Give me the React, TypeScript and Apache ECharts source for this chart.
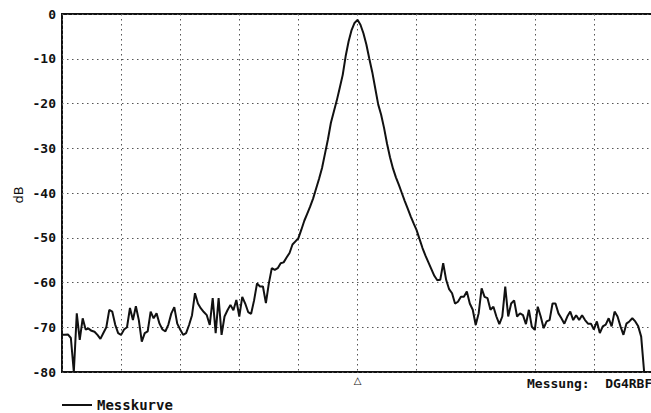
import React, { useEffect, useRef } from "react";
import * as echarts from "echarts";

// Sampling step along the horizontal axis (in grid divisions)
const sampleStep = 0.05;

// Measured level in dB, one reading per sample step (0 .. 9.85 divisions)
const levelDb: number[] = [
  -71.7, -71.7, -71.6, -72.4, -80, -66.9, -72.8, -68.0, -70.5, -70.3,
  -70.8, -71.0, -71.7, -72.6, -71.3, -70.0, -66.1, -66.5, -69.4, -71.3,
  -71.7, -70.5, -70.0, -65.7, -68.4, -65.3, -68.4, -73.2, -71.3, -70.9,
  -66.5, -68.0, -66.9, -69.2, -70.5, -70.9, -69.4, -66.9, -65.5, -69.2,
  -70.5, -71.7, -71.3, -69.5, -67.3, -62.4, -64.7, -65.8, -66.6, -67.3,
  -69.5, -63.5, -71.3, -63.5, -71.7, -67.6, -66.2, -65.0, -66.2, -63.9,
  -67.6, -63.2, -64.7, -66.6, -67.0, -64.0, -60.2, -60.9, -60.9, -64.6,
  -60.2, -56.8, -57.2, -56.8, -55.7, -55.5, -54.4, -53.4, -51.5, -50.8,
  -50.1, -48.2, -46.2, -44.6, -43.0, -41.2, -39.0, -36.8, -34.4, -31.2,
  -28.0, -24.3, -21.8, -19.3, -16.5, -13.6, -9.4, -6.1, -3.6, -2.0,
  -1.3, -2.4, -4.3, -6.8, -10.0, -13.0, -16.6, -20.2, -22.5, -25.5,
  -29.0, -32.0, -34.5, -36.5, -38.2, -40.0, -41.8, -43.5, -45.2, -46.8,
  -48.3, -50.3, -52.3, -54.0, -55.5, -57.0, -58.5, -59.5, -59.4, -55.7,
  -59.4, -61.5, -62.4, -64.7, -64.3, -63.2, -63.2, -62.0, -64.7, -66.1,
  -69.5, -66.9, -61.3, -63.2, -63.5, -66.1, -65.4, -67.6, -69.3, -67.6,
  -60.9, -67.6, -64.7, -64.0, -67.6, -66.9, -67.3, -69.3, -66.1, -69.9,
  -70.6, -65.4, -67.6, -70.2, -68.7, -68.4, -64.7, -64.7, -66.9, -68.0,
  -69.2, -67.6, -66.5, -68.4, -67.3, -68.4, -67.3, -68.4, -69.2, -69.2,
  -70.5, -68.7, -71.3, -69.8, -69.4, -68.0, -69.8, -66.5, -67.6, -69.8,
  -71.7, -69.2, -68.7, -68.0, -68.7, -69.8, -72.1, -80,
];

const yTicks = { min: -80, max: 0, interval: 10 };
const xTicks = { min: 0, max: 10, interval: 1 };
const centerMarker = 5;
const seriesName = "Messkurve";
const yAxisTitle = "dB";
const footerText = "Messung:  DG4RBF";

export default function App() {
  const ref = useRef<HTMLDivElement>(null);

  useEffect(() => {
    if (!ref.current) return;
    const chart = echarts.init(ref.current, undefined, { renderer: "svg" });
    const data = levelDb.map((v, i) => [+(i * sampleStep).toFixed(2), v]);
    const gridDots = { color: "#555", width: 1, type: [1.5, 3.5] as any };

    chart.setOption({
      animation: false,
      backgroundColor: "#fff",
      grid: {
        left: 62,
        top: 14,
        width: 591,
        height: 358,
        show: true,
        borderColor: "#111",
        borderWidth: 2,
        backgroundColor: "transparent",
      },
      legend: {
        left: 62,
        top: 398,
        padding: 0,
        icon: "rect",
        itemWidth: 30,
        itemHeight: 2,
        data: [seriesName],
        textStyle: {
          fontFamily: "DejaVu Sans Mono",
          fontWeight: "bold",
          fontSize: 14,
          color: "#111",
        },
      },
      xAxis: {
        type: "value",
        min: xTicks.min,
        max: xTicks.max,
        interval: xTicks.interval,
        axisLine: { show: false },
        axisTick: { show: false },
        splitLine: { show: true, lineStyle: gridDots },
        axisLabel: {
          margin: 3,
          fontSize: 10,
          color: "#111",
          fontFamily: "DejaVu Sans",
          formatter: (v: number) => (v === centerMarker ? "△" : ""),
        },
      },
      yAxis: {
        type: "value",
        min: yTicks.min,
        max: yTicks.max,
        interval: yTicks.interval,
        axisLine: { show: false },
        axisTick: { show: false },
        splitLine: { show: true, lineStyle: gridDots },
        axisLabel: {
          margin: 6,
          fontFamily: "DejaVu Sans Mono",
          fontWeight: "bold",
          fontSize: 13,
          color: "#111",
        },
      },
      graphic: [
        {
          type: "text",
          x: 18,
          y: 195,
          rotation: Math.PI / 2,
          style: {
            text: yAxisTitle,
            fontFamily: "DejaVu Sans",
            fontSize: 13,
            fill: "#111",
            align: "center",
            verticalAlign: "middle",
          },
        },
        {
          type: "text",
          x: 527,
          y: 383,
          style: {
            text: footerText,
            fontFamily: "DejaVu Sans Mono",
            fontWeight: "bold",
            fontSize: 13,
            fill: "#111",
            align: "left",
            verticalAlign: "middle",
          },
        },
      ],
      series: [
        {
          name: seriesName,
          type: "line",
          data,
          showSymbol: false,
          symbol: "none",
          lineStyle: { color: "#111", width: 2 },
          itemStyle: { color: "#111" },
          clip: true,
        },
      ],
    });
    return () => chart.dispose();
  }, []);

  return (
    <div
      style={{
        position: "fixed",
        left: 0,
        top: 0,
        width: 651,
        height: 413,
        overflow: "hidden",
        background: "#fff",
      }}
    >
      <div ref={ref} style={{ width: 665, height: 413 }} />
    </div>
  );
}
